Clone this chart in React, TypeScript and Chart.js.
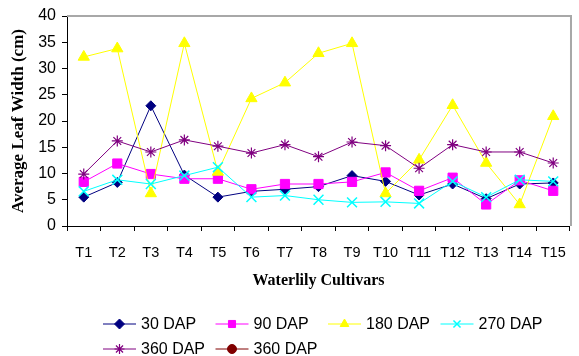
import React, { useEffect, useRef } from "react";
import { Chart, registerables } from "chart.js";
import { drawPoint } from "chart.js/helpers";

Chart.register(...registerables);

const categories = ["T1", "T2", "T3", "T4", "T5", "T6", "T7", "T8", "T9", "T10", "T11", "T12", "T13", "T14", "T15"];
const dap30 = [5.5, 8.3, 22.9, 9.7, 5.5, 6.6, 7.0, 7.5, 9.6, 8.5, 5.9, 8.0, 5.2, 8.0, 8.2];
const dap90 = [8.4, 11.9, 9.9, 9.0, 9.0, 7.0, 8.0, 8.0, 8.4, 10.2, 6.7, 9.2, 4.1, 8.7, 6.7];
const dap180 = [32.2, 33.8, 6.2, 34.8, 10.3, 24.3, 27.3, 32.9, 34.8, 6.2, 12.6, 23.0, 12.0, 4.1, 20.9];
const dap270 = [6.6, 8.8, 8.0, 9.6, 11.2, 5.5, 5.8, 5.0, 4.5, 4.6, 4.3, 8.5, 5.5, 8.8, 8.5];
const dap360 = [9.9, 16.2, 14.1, 16.4, 15.2, 13.9, 15.5, 13.2, 16.0, 15.3, 11.0, 15.5, 14.1, 14.1, 12.0];
const dap360b: (number | null)[] = [null, null, null, null, null, null, null, null, null, null, null, null, null, null, null];
const seriesLabels = ["30 DAP", "90 DAP", "180 DAP", "270 DAP", "360 DAP", "360 DAP"];
const yMin = 0;
const yMax = 40;
const yStep = 5;

const framePlugin = {
  id: "frame",
  beforeDatasetsDraw(chart: any) {
    const { ctx, chartArea } = chart;
    const { left, right, top, bottom } = chartArea;
    ctx.save();
    ctx.strokeStyle = "#a8a8a8";
    ctx.lineWidth = 2;
    ctx.beginPath();
    ctx.moveTo(left, top);
    ctx.lineTo(right + 1, top);
    ctx.lineTo(right + 1, bottom);
    ctx.stroke();
    ctx.restore();
  },
};

const legendPlugin = {
  id: "customLegend",
  afterDraw(chart: any) {
    const { ctx } = chart;
    const ds = chart.data.datasets;
    ctx.save();
    ds.forEach((d: any, i: number) => {
      const col = i % 4;
      const row = Math.floor(i / 4);
      const x0 = 103 + col * 112.5;
      const y = 324 + row * 25;
      ctx.strokeStyle = d.borderColor;
      ctx.lineWidth = 1;
      ctx.beginPath();
      ctx.moveTo(x0, y);
      ctx.lineTo(x0 + 33, y);
      ctx.stroke();
      ctx.fillStyle = d.pointBackgroundColor;
      ctx.strokeStyle = d.pointBorderColor;
      ctx.lineWidth = d.pointBorderWidth;
      drawPoint(ctx, { pointStyle: d.pointStyle, radius: Math.min(d.pointRadius, 5), rotation: 0, borderWidth: d.pointBorderWidth }, x0 + 16.5, y);
      ctx.fillStyle = "#000";
      ctx.font = "16px 'Liberation Sans', Arial, sans-serif";
      ctx.textBaseline = "middle";
      ctx.textAlign = "left";
      ctx.fillText(d.label, x0 + 38, y + 1);
    });
    ctx.restore();
  },
};

function mk(label: string, data: (number | null)[], color: string, style: string, radius: number, bw: number, order: number) {
  return {
    label,
    data,
    borderColor: color,
    backgroundColor: color,
    borderWidth: 1,
    pointStyle: style,
    pointRadius: radius,
    pointBackgroundColor: color,
    pointBorderColor: color,
    pointBorderWidth: bw,
    pointHoverRadius: radius,
    tension: 0,
    order,
  };
}

export default function App() {
  const ref = useRef<HTMLCanvasElement | null>(null);
  useEffect(() => {
    document.body.style.margin = "0";
    const canvas = ref.current;
    if (!canvas) return;
    const chart = new Chart(canvas, {
      type: "line",
      data: {
        labels: categories,
        datasets: [
          mk(seriesLabels[0], dap30, "#000080", "rectRot", 5, 1, 6),
          mk(seriesLabels[1], dap90, "#ff00ff", "rect", 6.5, 1, 5),
          mk(seriesLabels[2], dap180, "#ffff00", "triangle", 6.5, 1, 4),
          mk(seriesLabels[3], dap270, "#00ffff", "crossRot", 7, 1.5, 3),
          mk(seriesLabels[4], dap360, "#800080", "star", 5.5, 1.2, 2),
          mk(seriesLabels[5], dap360b, "#800000", "circle", 4.5, 1, 1),
        ] as any,
      },
      options: {
        animation: false,
        responsive: false,
        maintainAspectRatio: false,
        layout: { padding: { left: 0, right: 4, top: 16, bottom: 62 } },
        plugins: { legend: { display: false }, tooltip: { enabled: false } },
        scales: {
          x: {
            offset: true,
            grid: { offset: true, drawOnChartArea: false, tickLength: 5, color: "#000" },
            border: { display: true, color: "#000", width: 1 },
            ticks: { color: "#000", font: { family: "'Liberation Sans', Arial, sans-serif", size: 14.5 }, padding: 13, maxRotation: 0, autoSkip: false },
            title: {
              display: true,
              text: "Waterlily Cultivars",
              color: "#000",
              font: { family: "'Liberation Serif', 'Times New Roman', serif", size: 16, weight: "bold" },
              padding: { top: 0, bottom: 4 },
            },
            afterFit(scale: any) {
              scale.height = 68;
            },
          },
          y: {
            min: yMin,
            max: yMax,
            grid: { drawOnChartArea: false, tickLength: 5, color: "#000" },
            border: { display: true, color: "#000", width: 1 },
            ticks: { stepSize: yStep, color: "#000", font: { family: "'Liberation Sans', Arial, sans-serif", size: 16 }, padding: 6 },
            title: {
              display: true,
              text: "Average Leaf Width (cm)",
              color: "#000",
              font: { family: "'Liberation Serif', 'Times New Roman', serif", size: 17, weight: "bold" },
              padding: { top: 8, bottom: 0 },
            },
            afterFit(scale: any) {
              scale.width = 67;
            },
          },
        },
      },
      plugins: [framePlugin, legendPlugin],
    });
    return () => chart.destroy();
  }, []);
  return (
    <div style={{ width: 579, height: 356 }}>
      <canvas ref={ref} width={579} height={356} style={{ width: 579, height: 356, display: "block" }} />
    </div>
  );
}
